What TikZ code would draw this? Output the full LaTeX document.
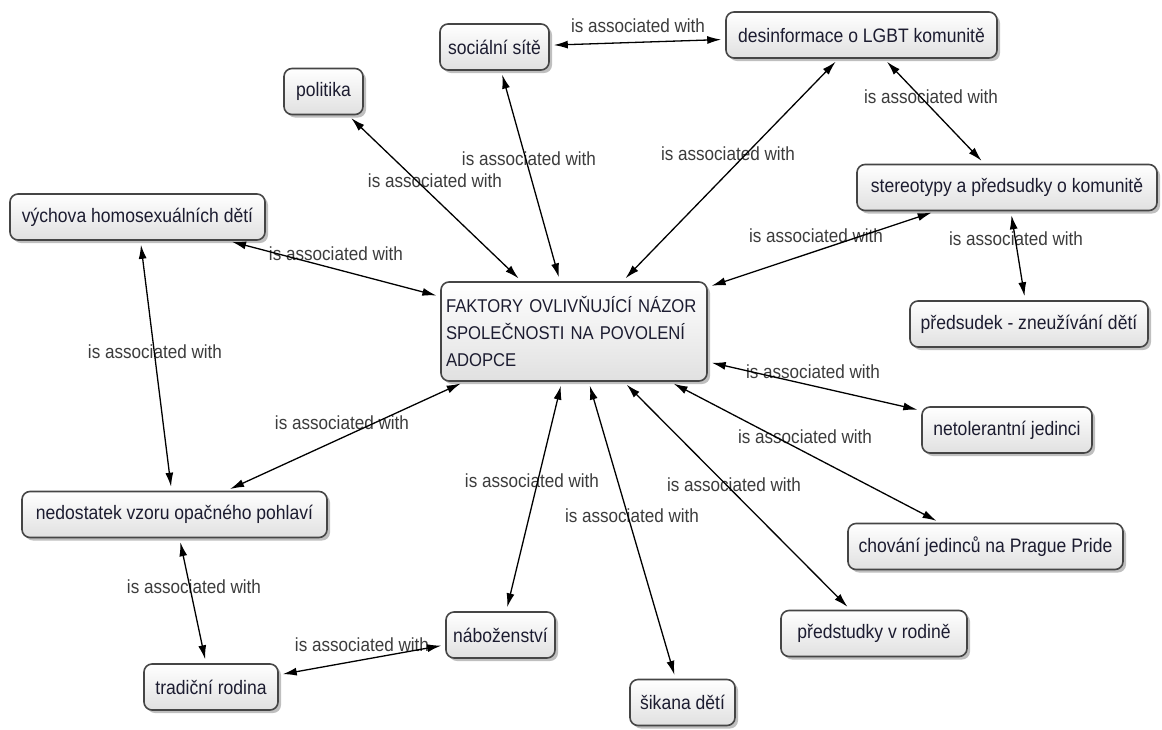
\documentclass[tikz,border=0pt]{standalone}
\usepackage{fontspec}
\setmainfont{Liberation Sans}[FakeStretch=0.9]
\usetikzlibrary{arrows.meta,shadows}
\definecolor{rim}{HTML}{454545}
\definecolor{ink}{HTML}{1C1C30}
\definecolor{lblgray}{HTML}{3C3C3C}
\tikzset{
  concept/.style={draw=rim, line width=1.6pt, rounded corners=8pt,
    top color=white, bottom color=black!12, text=ink,
    font=\fontsize{19.5}{22}\selectfont, minimum height=46pt, inner xsep=5pt,
    drop shadow={shadow xshift=3pt, shadow yshift=-3pt, fill=black!50, opacity=.5}},
  hub/.style={text width=256pt, align=left, minimum height=99pt,
    font=\fontsize{18.5}{27}\selectfont},
  link/.style={font=\fontsize{19}{22}\selectfont, text=lblgray, inner sep=0pt}
}
\newcommand{\connect}[2]{
  \draw [{Latex[length=14pt,width=8pt]}-{Latex[length=14pt,width=8pt]},
    line width=1.3pt, shorten <=4pt, shorten >=4pt, color=black] (#1) to (#2)
}

\begin{document}
\begin{tikzpicture}[x=1pt,y=-1pt]
\path[use as bounding box, fill=white] (0,0) rectangle (1162,729);

% centre
\node[concept, hub] (F) at (574,331.5) {FAKTORY OVLIVŇUJÍCÍ NÁZOR\\ SPOLEČNOSTI NA POVOLENÍ\\ ADOPCE};

% upper concepts
\node[concept, minimum width=109pt] (soc)  at ( 494.5, 47  ) {sociální sítě};
\node[concept, minimum width=271pt] (des)  at ( 861.5, 35  ) {desinformace o LGBT komunitě};
\node[concept, minimum width=79pt]  (pol)  at ( 323.5, 91.5) {politika};
\node[concept, minimum width=300pt] (ste)  at (1007  ,187.5) {stereotypy a předsudky o komunitě};
\node[concept, minimum width=255pt] (vych) at ( 137.5,217  ) {výchova homosexuálních dětí};
\node[concept, minimum width=238pt] (zne)  at (1029  ,324  ) {předsudek - zneužívání dětí};

% lower concepts
\node[concept, minimum width=170pt] (net)  at (1007  ,430  ) {netolerantní jedinci};
\node[concept, minimum width=275pt] (pp)   at ( 985.5,546.5) {chování jedinců na Prague Pride};
\node[concept, minimum width=305pt] (ned)  at ( 174.5,514.5) {nedostatek vzoru opačného pohlaví};
\node[concept, minimum width=109pt] (nab)  at ( 500.5,635  ) {náboženství};
\node[concept, minimum width=186pt] (rod)  at ( 874  ,633.5) {předstudky v rodině};
\node[concept, minimum width=134pt] (trad) at ( 211  ,687  ) {tradiční rodina};
\node[concept, minimum width=105pt] (sik)  at ( 682.5,702.5) {šikana dětí};

% link labels
\node[link] (L1)  at ( 638, 26) {is associated with};
\node[link] (L2)  at ( 435,181) {is associated with};
\node[link] (L3)  at ( 529,159) {is associated with};
\node[link] (L4)  at ( 728,154) {is associated with};
\node[link] (L5)  at ( 931, 97) {is associated with};
\node[link] (L6)  at ( 816,236) {is associated with};
\node[link] (L7)  at (1016,239) {is associated with};
\node[link] (L8)  at ( 336,254) {is associated with};
\node[link] (L9)  at ( 155,352) {is associated with};
\node[link] (L10) at ( 342,423) {is associated with};
\node[link] (L11) at ( 813,372) {is associated with};
\node[link] (L12) at ( 805,437) {is associated with};
\node[link] (L13) at ( 734,485) {is associated with};
\node[link] (L14) at ( 632,516) {is associated with};
\node[link] (L15) at ( 532,481) {is associated with};
\node[link] (L16) at ( 194,587) {is associated with};
\node[link] (L17) at ( 362,645) {is associated with};

% connect centre
\connect {F} {pol};
\connect {F} {soc};
\connect {F} {des};
\connect {F} {ste};
\connect {F} {vych};
\connect {F} {ned};
\connect {F} {net};
\connect {F} {pp};
\connect {F} {rod};
\connect {F} {sik};
\connect {F} {nab};

% connect the rest
\connect {soc} {des};
\connect {des} {ste};
\connect {ste} {zne};
\connect {vych} {ned};
\connect {ned} {trad};
\connect {trad} {nab};

\end{tikzpicture}
\end{document}
